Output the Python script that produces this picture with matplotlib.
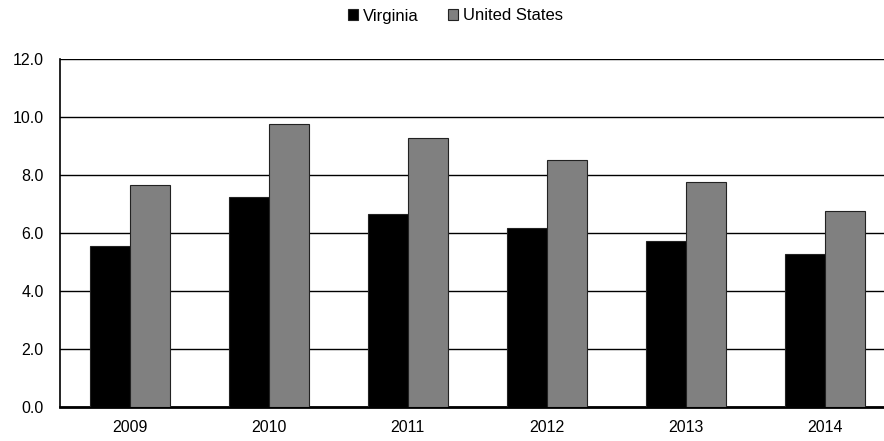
import numpy as np
import matplotlib.pyplot as plt

plt.rcParams['font.family'] = ['Liberation Sans', 'DejaVu Sans']

# Data
years = ['2009', '2010', '2011', '2012', '2013', '2014']
virginia = [5.56, 7.25, 6.64, 6.17, 5.73, 5.29]
united_states = [7.64, 9.76, 9.29, 8.52, 7.76, 6.75]

W, H = 884, 441
fig = plt.figure(figsize=(W / 100, H / 100), dpi=100)
ax = fig.add_axes([60.2 / W, 34 / H, 834.4 / W, 348 / H])

x = np.arange(len(years))
bw = 0.288
ax.bar(x - bw / 2, virginia, bw, color='black', edgecolor='#222222', linewidth=0.8,
       label='Virginia', zorder=3)
ax.bar(x + bw / 2, united_states, bw, color='#808080', edgecolor='#222222', linewidth=0.8,
       label='United States', zorder=3)

ax.set_xlim(-0.5, len(years) - 0.5)
ax.set_ylim(0, 12)
ax.set_yticks(np.arange(0, 12.1, 2))
ax.set_yticklabels([f'{v:.1f}' for v in np.arange(0, 12.1, 2)], fontsize=11.5)
ax.set_xticks(x)
ax.set_xticklabels(years, fontsize=11.5)
ax.tick_params(axis='both', length=0)
ax.tick_params(axis='y', pad=12)
ax.tick_params(axis='x', pad=9)

ax.yaxis.grid(True, color='black', linewidth=1.0, zorder=0)
ax.set_axisbelow(True)
for side in ['top', 'right']:
    ax.spines[side].set_visible(False)
ax.spines['left'].set_linewidth(1.2)
ax.spines['bottom'].set_linewidth(2.0)

fig.legend(loc='center', bbox_to_anchor=(455.5 / W, 1 - 16 / H), ncol=2, frameon=False,
           fontsize=12, handlelength=0.6, handleheight=0.6, handletextpad=0.25,
           columnspacing=1.8)

fig.savefig('out.png', dpi=100)
